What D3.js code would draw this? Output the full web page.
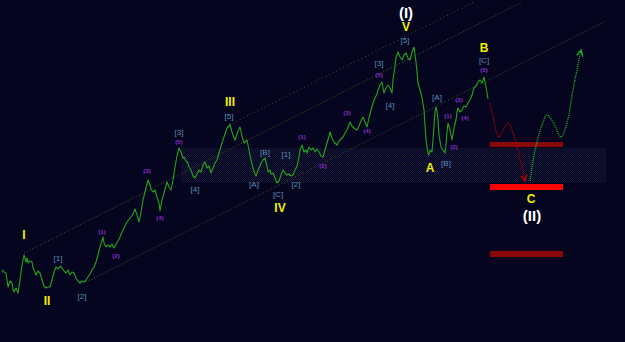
<!DOCTYPE html>
<html>
<head>
<meta charset="utf-8">
<script src="https://d3js.org/d3.v7.min.js"></script>
<style>
  html, body { margin: 0; padding: 0; background: #05051f; }
  svg { display: block; }
</style>
</head>
<body>
<div id="chart"></div>
<script>
// Wave count chart: bar index on x, price level on y

// price path as [bar, close]
const priceBars = [
  [2,72],[4,70],[6,69],[7,62],[8,55],[10,61],[12,59],[13,53],[14,50],[16,54],[18,49],
  [20,62],[22,77],[24,87],[26,80],[27,84],[28,79],[30,81],[32,80],[33,74],[35,70],
  [36,67],[38,71],[40,69],[42,62],[44,56],[46,54],[48,55],[50,55],[52,62],[54,70],
  [56,75],[58,73],[60,76],[62,74],[64,71],[66,69],[68,72],[70,67],[72,70],[74,69],
  [76,64],[78,61],[80,59],[82,61],[84,60],[86,62],[88,65],[90,68],[92,72],[94,75],
  [96,80],[98,87],[100,95],[102,101],[103,105],[104,99],[106,95],[108,97],[110,95],
  [112,98],[114,94],[116,98],[118,101],[120,105],[122,110],[124,114],[127,120],
  [130,124],[133,128],[135,133],[137,127],[139,120],[141,130],[143,142],[145,150],
  [147,158],[148,162],[150,157],[151,153],[153,150],[155,152],[157,145],[159,139],
  [160,131],[162,142],[164,149],[166,156],[167,160],[169,155],[171,152],[173,162],
  [175,175],[177,186],[179,194],[181,190],[183,184],[184,185],[186,181],[188,179],
  [189,175],[191,172],[193,166],[195,164],[197,168],[199,172],[201,170],[203,177],
  [205,180],[207,174],[209,176],[211,169],[213,174],[215,179],[217,182],[219,189],
  [221,196],[223,202],[225,208],[227,214],[229,216],[230,218],[232,210],[234,204],
  [235,202],[237,208],[239,213],[240,215],[242,206],[244,199],[246,201],[247,202],
  [249,192],[251,182],[253,174],[255,168],[256,166],[258,172],[260,176],[261,179],
  [263,182],[265,184],[267,176],[268,170],[270,172],[271,168],[273,169],[275,164],
  [277,159],[279,161],[281,167],[283,172],[285,169],[287,167],[289,168],[291,166],
  [293,167],[295,172],[297,176],[299,185],[300,192],[302,197],[304,190],[306,192],
  [307,189],[309,195],[311,192],[313,194],[315,190],[317,193],[319,190],[321,186],
  [323,185],[325,192],[327,199],[329,206],[330,210],[332,204],[334,200],[337,197],
  [339,201],[341,203],[343,205],[345,209],[347,212],[350,220],[352,216],[354,214],
  [357,212],[359,216],[361,221],[363,225],[365,220],[367,215],[369,224],[371,232],
  [373,239],[375,244],[377,248],[378,252],[380,257],[382,260],[383,254],[384,249],
  [386,254],[388,257],[390,254],[392,249],[393,262],[395,276],[396,284],[398,290],
  [400,285],[402,282],[404,287],[406,289],[408,284],[410,282],[412,290],[414,295],
  [415,287],[416,280],[417,270],[418,259],[420,252],[422,245],[423,238],[424,232],
  [425,217],[426,202],[427,195],[428,189],[429,187],[430,192],[432,190],[433,202],
  [434,217],[435,230],[436,235],[437,230],[438,222],[439,207],[441,195],[443,192],
  [445,189],[446,197],[447,210],[448,219],[450,212],[452,202],[454,214],[456,222],
  [457,230],[458,234],[460,230],[462,232],[464,236],[466,235],[468,239],[470,242],
  [472,247],[474,254],[476,256],[478,260],[480,262],[482,259],[484,265],[485,260],
  [486,255],[487,249],[488,243]
];

// projected paths
const bearPath = [[490,239],[493,225],[499,205],[504,214],[508,219],[512,212],[517,195],[522,175],[525,161]];
const bullPath = [[530,161],[535,192],[542,217],[547,227],[553,220],[561,205],[567,219],[573,252],[581,292]];

// channel lines [[x0,v0],[x1,v1]]
const channels = [
  { pts: [[86,60],[606,321]], dash: "1,2" },
  { pts: [[24,89],[522,340]], dash: "1,2" },
  { pts: [[229,217],[474,340]], dash: "1,3" }
];

// zones [x0, x1, vTop, vBottom]
const supportBand = [181, 606, 194, 159];
const targetZones = [
  { x: [490, 563], v: [200, 195], kind: "weak" },
  { x: [490, 563], v: [158, 152], kind: "main" },
  { x: [490, 563], v: [91, 85], kind: "weak" }
];

// labels [text, bar, level]
const primaryLabels = [["(I)",406,329],["(II)",532,126]];
const intermediateLabels = [
  ["I",24,107],["II",47,41],["III",230,240],["IV",280,134],["V",406,315],
  ["A",430,174],["B",484,294],["C",531,143]
];
const minorLabels = [
  ["[1]",58,84],["[2]",82,46],["[3]",179,210],["[4]",195,153],["[5]",229,226],
  ["[A]",254,158],["[B]",265,190],["[C]",278,148],["[1]",286,188],["[2]",296,158],
  ["[3]",379,279],["[4]",390,237],["[5]",405,302],["[A]",437,245],["[B]",446,179],["[C]",484,282]
];
const minuteLabels = [
  ["(1)",102,110],["(2)",116,86],["(3)",147,171],["(4)",160,124],["(5)",179,200],
  ["(1)",302,205],["(2)",323,176],["(3)",347,229],["(4)",367,211],["(5)",379,267],
  ["(1)",448,226],["(2)",454,195],["(3)",459,242],["(4)",465,224],["(5)",484,272]
];

const width = 625, height = 342;

const svg = d3.select("#chart")
  .append("svg")
  .attr("width", width)
  .attr("height", height);

const x = d3.scaleLinear().domain([0, 625]).range([0, width]);
const y = d3.scaleLinear().domain([0, 342]).range([height, 0]);

// patterns for the dotted fills
const defs = svg.append("defs");
function dotPattern(id, base, dot) {
  const p = defs.append("pattern")
    .attr("id", id)
    .attr("width", 2).attr("height", 2)
    .attr("patternUnits", "userSpaceOnUse");
  p.append("rect").attr("width", 2).attr("height", 2).attr("fill", base);
  p.append("rect").attr("width", 1).attr("height", 1).attr("fill", dot);
  p.append("rect").attr("x", 1).attr("y", 1).attr("width", 1).attr("height", 1).attr("fill", dot);
}
dotPattern("bandFill", "#06061f", "#161638");
dotPattern("weakFill", "#7a0404", "#960c0c");

function arrowMarker(id, color) {
  defs.append("marker")
    .attr("id", id)
    .attr("viewBox", "0 0 10 10")
    .attr("refX", 9).attr("refY", 5)
    .attr("markerWidth", 6).attr("markerHeight", 6)
    .attr("orient", "auto")
    .append("path")
    .attr("d", "M1,1 L9,5 L1,9")
    .attr("fill", "none")
    .attr("stroke", color)
    .attr("stroke-width", 1.6);
}
arrowMarker("arrowRed", "#c00000");
arrowMarker("arrowGreen", "#22bb22");

// background
svg.append("rect")
  .attr("width", width).attr("height", height)
  .attr("fill", "#05051f");

// support band
svg.append("rect")
  .attr("x", x(supportBand[0]))
  .attr("y", y(supportBand[2]))
  .attr("width", x(supportBand[1]) - x(supportBand[0]))
  .attr("height", y(supportBand[3]) - y(supportBand[2]))
  .attr("fill", "url(#bandFill)");

// channel lines
const lineGen = d3.line().x((d) => x(d[0])).y((d) => y(d[1]));
svg.append("g")
  .selectAll("path")
  .data(channels)
  .enter()
  .append("path")
  .attr("d", (d) => lineGen(d.pts))
  .attr("fill", "none")
  .attr("stroke", "#4a5a1e")
  .attr("stroke-width", 1)
  .attr("stroke-dasharray", (d) => d.dash);

// target zones
svg.append("g")
  .selectAll("rect")
  .data(targetZones)
  .enter()
  .append("rect")
  .attr("x", (d) => x(d.x[0]))
  .attr("y", (d) => y(d.v[0]))
  .attr("width", (d) => x(d.x[1]) - x(d.x[0]))
  .attr("height", (d) => y(d.v[1]) - y(d.v[0]))
  .attr("fill", (d) => (d.kind === "main" ? "#ff0000" : "url(#weakFill)"));

// price line
svg.append("path")
  .datum(priceBars)
  .attr("d", lineGen)
  .attr("fill", "none")
  .attr("stroke", "#28a41c")
  .attr("stroke-width", 1.1)
  .attr("stroke-linejoin", "round");

// projections
const curveGen = d3.line()
  .x((d) => x(d[0]))
  .y((d) => y(d[1]))
  .curve(d3.curveCatmullRom.alpha(0.5));

svg.append("path")
  .datum(bearPath)
  .attr("d", curveGen)
  .attr("fill", "none")
  .attr("stroke", "#b00000")
  .attr("stroke-width", 1.3)
  .attr("stroke-dasharray", "1,1")
  .attr("marker-end", "url(#arrowRed)");

svg.append("path")
  .datum(bullPath)
  .attr("d", curveGen)
  .attr("fill", "none")
  .attr("stroke", "#22bb22")
  .attr("stroke-width", 1.3)
  .attr("stroke-dasharray", "1,1")
  .attr("marker-end", "url(#arrowGreen)");

// wave labels
function addLabels(data, size, color, weight) {
  svg.append("g")
    .selectAll("text")
    .data(data)
    .enter()
    .append("text")
    .attr("x", (d) => x(d[1]))
    .attr("y", (d) => y(d[2]))
    .attr("dy", "0.36em")
    .attr("text-anchor", "middle")
    .attr("font-family", "'Liberation Sans', Arial, sans-serif")
    .attr("font-size", size + "px")
    .attr("font-weight", weight)
    .attr("fill", color)
    .text((d) => d[0]);
}
addLabels(minuteLabels, 6, "#8a2fc8", "bold");
addLabels(minorLabels, 8, "#5b8fb8", "normal");
addLabels(intermediateLabels, 12, "#f0f000", "bold");
addLabels(primaryLabels, 15, "#ffffff", "bold");
</script>
</body>
</html>
